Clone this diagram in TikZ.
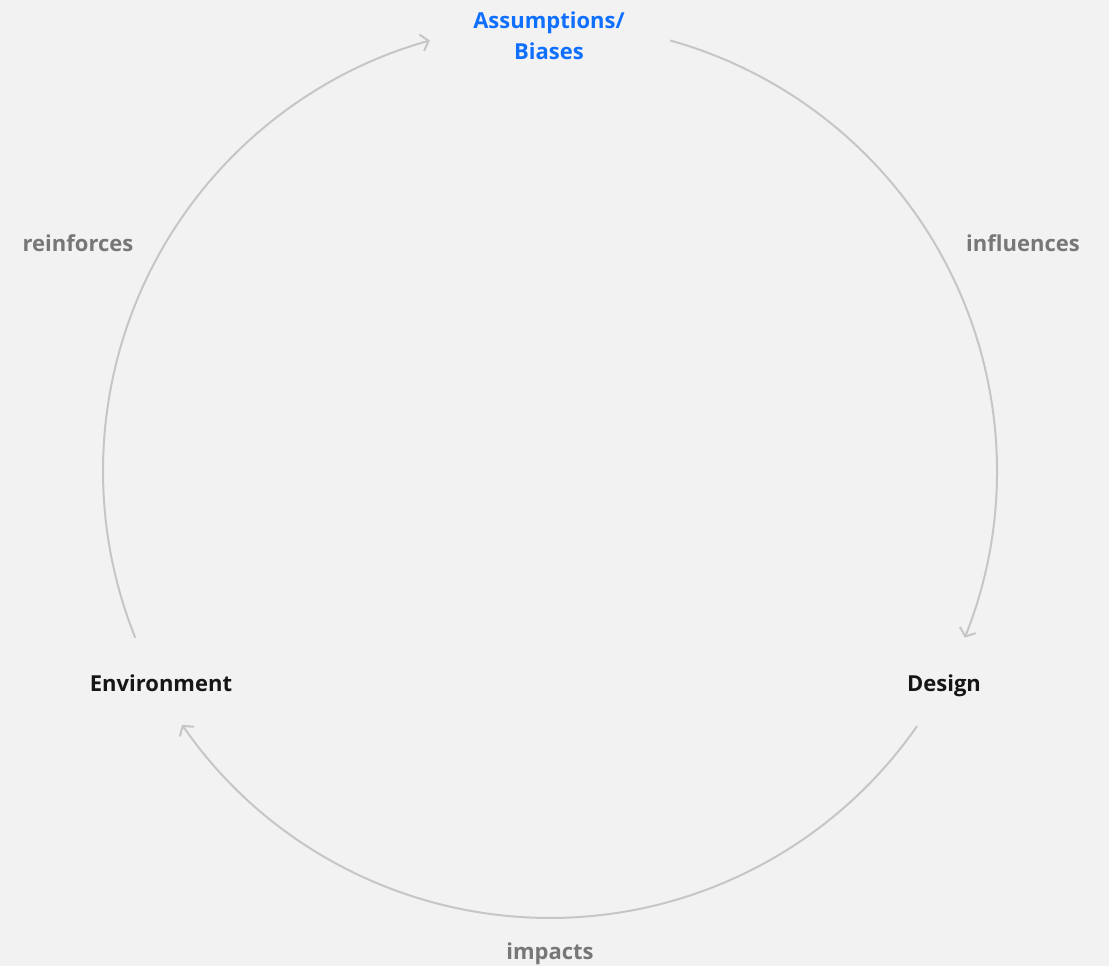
\documentclass[tikz,border=0pt]{standalone}
\usepackage{fontspec}
\setmainfont{Open Sans}
\usetikzlibrary{arrows.meta}
\definecolor{bg}{HTML}{F2F2F2}
\definecolor{ring}{HTML}{C6C6C6}
\definecolor{accent}{HTML}{0F6FFF}
\definecolor{ink}{HTML}{161616}
\definecolor{muted}{HTML}{777777}
\begin{document}
\begin{tikzpicture}[x=1pt,y=1pt,
  cyc/.style={draw=ring, line width=2pt,
    -{Straight Barb[length=7pt,width=17pt,line width=2pt]}},
  stage/.style={font=\fontsize{22}{31}\selectfont\bfseries, text=ink,
    align=center, inner sep=0, anchor=base},
  verb/.style={font=\fontsize{22}{26}\selectfont\bfseries, text=muted,
    inner sep=0, anchor=base}]
\fill[bg] (0,0) rectangle (1109,966);
\useasboundingbox (0,0) rectangle (1109,966);
% centre of the cycle
\coordinate (c) at (550,495);
% stages (base of a two-line node sits on its last line)
\node[stage,text=accent] (assume) at (549,906) {Assumptions/\\Biases};
\node[stage] (design) at (944,274) {Design};
\node[stage] (env) at (161,274) {Environment};
% relations
\node[verb] (infl) at (1023,714) {influences};
\node[verb] (reinf) at (78,714) {reinforces};
\node[verb] (impc) at (550,6) {impacts};
% arc end points on the ring
\coordinate (a1) at ([shift={(74.4:447)}]c);
\coordinate (a2) at ([shift={(-34.8:447)}]c);
\coordinate (a3) at ([shift={(201.9:447)}]c);
% the three arcs of the cycle
\draw[cyc] (a1) arc[start angle=74.4, end angle=-21.9, radius=447];
\draw[cyc] (a2) arc[start angle=-34.8, end angle=-145.4, radius=447];
\draw[cyc] (a3) arc[start angle=201.9, end angle=105.6, radius=447];
\end{tikzpicture}
\end{document}
